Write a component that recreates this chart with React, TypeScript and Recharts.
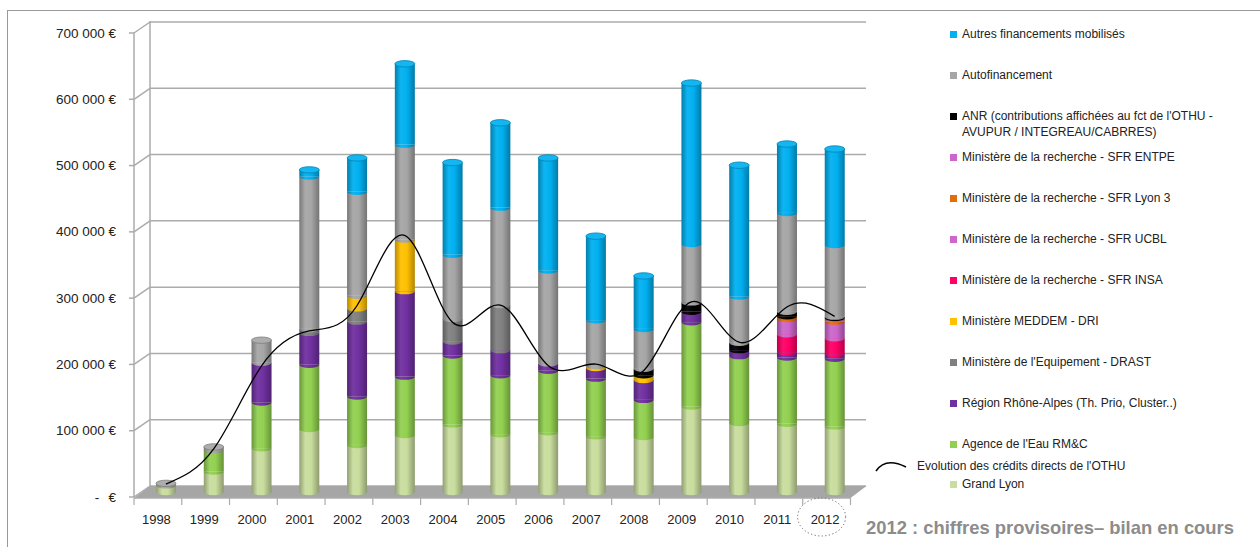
import React from "react";
import { ComposedChart, Bar, Line, XAxis, YAxis, CartesianGrid, ReferenceArea } from "recharts";

// financement OTHU par année (en €)
const years = ["1998", "1999", "2000", "2001", "2002", "2003", "2004", "2005", "2006", "2007", "2008", "2009", "2010", "2011", "2012"];

const grandLyon = [10000, 31000, 66000, 95000, 71000, 86000, 102000, 87000, 90000, 84000, 83000, 129000, 104000, 103000, 99000];
const agenceEau = [0, 32000, 69000, 97000, 73000, 88000, 104000, 89000, 93000, 87000, 56000, 127000, 101000, 100000, 102000];
const regionRA = [0, 0, 60000, 48000, 113000, 129000, 21000, 38000, 11000, 16000, 30000, 16000, 9000, 8000, 7000];
const drast = [0, 0, 0, 6000, 20000, 0, 34000, 68000, 0, 0, 0, 0, 0, 0, 0];
const meddem = [0, 0, 0, 0, 19000, 78000, 0, 0, 0, 3000, 7000, 0, 0, 0, 0];
const sfrInsa = [0, 0, 0, 0, 0, 0, 0, 0, 0, 0, 0, 0, 0, 27000, 24000];
const sfrUcbl = [0, 0, 0, 0, 0, 0, 0, 0, 0, 0, 0, 0, 0, 23000, 25000];
const sfrLyon3 = [0, 0, 0, 0, 0, 0, 0, 0, 0, 0, 0, 0, 0, 4000, 4000];
const sfrEntpe = [0, 0, 0, 0, 0, 0, 0, 0, 0, 0, 0, 0, 0, 0, 1500];
const anr = [0, 0, 0, 0, 0, 0, 0, 0, 0, 0, 10000, 14000, 11000, 7000, 2000];
const autofinancement = [3000, 5000, 34000, 230000, 157000, 143000, 97000, 147000, 140000, 69000, 60000, 88000, 70000, 149000, 108000];
const autres = [0, 0, 0, 10000, 51000, 122000, 139000, 128000, 170000, 127000, 80000, 243000, 198000, 104000, 145000];

const evolution = [12000, 65000, 190000, 243000, 281000, 387000, 256000, 282000, 191000, 193000, 183000, 287000, 226000, 279000, 265000];

const yTicks = [0, 100000, 200000, 300000, 400000, 500000, 600000, 700000];

// ordre d'empilement, du bas vers le haut
const series = [
  { key: "grandLyon", name: "Grand Lyon", color: "#C9DD9E", values: grandLyon },
  { key: "agenceEau", name: "Agence de l'Eau RM&C", color: "#92D050", values: agenceEau },
  { key: "regionRA", name: "Région Rhône-Alpes (Th. Prio, Cluster..)", color: "#7030A0", values: regionRA },
  { key: "drast", name: "Ministère de l'Equipement - DRAST", color: "#808080", values: drast },
  { key: "meddem", name: "Ministère MEDDEM - DRI", color: "#FFC000", values: meddem },
  { key: "sfrInsa", name: "Ministère de la recherche - SFR INSA", color: "#FF0066", values: sfrInsa },
  { key: "sfrUcbl", name: "Ministère de la recherche - SFR UCBL", color: "#CC66CC", values: sfrUcbl },
  { key: "sfrLyon3", name: "Ministère de la recherche - SFR Lyon 3", color: "#E46C0A", values: sfrLyon3 },
  { key: "sfrEntpe", name: "Ministère de la recherche - SFR ENTPE", color: "#CC66CC", values: sfrEntpe },
  { key: "anr", name: "ANR (contributions affichées  au fct de l'OTHU -\nAVUPUR / INTEGREAU/CABRRES)", color: "#000000", values: anr },
  { key: "autofinancement", name: "Autofinancement", color: "#A6A6A6", values: autofinancement },
  { key: "autres", name: "Autres financements mobilisés", color: "#00B0F0", values: autres },
];

const data = years.map((year, i) => {
  const row: Record<string, any> = { year, evolution: evolution[i] };
  series.forEach((s) => (row[s.key] = s.values[i]));
  return row;
});

const FONT = "'Liberation Sans', Arial, sans-serif";
const GRID = "#ABABAB";
const TEXT = "#222";
const TOP = 28;
const PLOT_H = 464;
const STEP = PLOT_H / (yTicks.length - 1);

function shade(hex: string, f: number) {
  const n = parseInt(hex.slice(1), 16);
  const ch = [(n >> 16) & 255, (n >> 8) & 255, n & 255].map((c) =>
    f >= 1 ? Math.round(c + (255 - c) * (f - 1)) : Math.round(c * f)
  );
  return `rgb(${ch[0]},${ch[1]},${ch[2]})`;
}

const makeShape = (si: number) => (props: any) => {
  const { x, y, width, height, payload } = props;
  if (!height || height <= 0) return <g />;
  const s = series[si];
  const isTop = !series.slice(si + 1).some((o) => (payload[o.key] || 0) > 0);
  const rx = width / 2;
  const ry = 3.2;
  const fill = `url(#cyl${si})`;
  const bottom = y + height;
  return (
    <g>
      <rect x={x} y={y} width={width} height={height} fill={fill} />
      <path d={`M${x},${bottom} A${rx},${ry} 0 0 0 ${x + width},${bottom} Z`} fill={fill} />
      {isTop && (
        <ellipse cx={x + rx} cy={y} rx={rx} ry={ry} fill={shade(s.color, 1.08)} stroke={shade(s.color, 0.75)} strokeWidth={0.8} />
      )}
    </g>
  );
};

const YTick = (props: any) => {
  const { y, payload, index } = props;
  const v = payload.value as number;
  const fy = y + 5;
  return (
    <g>
      <line x1={129} y1={fy} x2={134} y2={fy} stroke={GRID} strokeWidth={1.5} />
      <line x1={134} y1={fy} x2={150} y2={y - 6} stroke={GRID} strokeWidth={1.5} />
      {index < yTicks.length - 1 && <line x1={134} y1={fy} x2={134} y2={fy - STEP} stroke={GRID} strokeWidth={1.5} />}
      {v === 0 ? (
        <>
          <text x={97} y={fy} textAnchor="middle" dominantBaseline="central" fontSize={13.5} fill={TEXT}>-</text>
          <text x={116} y={fy} textAnchor="end" dominantBaseline="central" fontSize={13.5} fill={TEXT}>€</text>
        </>
      ) : (
        <text x={116} y={fy} textAnchor="end" dominantBaseline="central" fontSize={13.5} fill={TEXT}>
          {`${v / 1000} 000 €`}
        </text>
      )}
    </g>
  );
};

const XTick = (props: any) => {
  const { x, payload } = props;
  return (
    <g>
      <text x={x - 9.5} y={519} textAnchor="middle" dominantBaseline="central" fontSize={13} fill={TEXT}>
        {payload.value}
      </text>
      {payload.value === "2012" && (
        <ellipse cx={x - 13} cy={517} rx={24} ry={19} fill="none" stroke="#666" strokeWidth={1} strokeDasharray="1.2 2.4" />
      )}
    </g>
  );
};

const Floor = (props: any) => {
  const { x, y, width: w, height: h } = props;
  const ticks = Array.from({ length: years.length + 1 }, (_, i) => x - 8 + (i * w) / years.length);
  return (
    <g>
      <polygon points={`${x + 8},${y} ${x + w + 8},${y} ${x + w - 8},${y + h} ${x - 8},${y + h}`} fill="#A6A6A6" />
      <line x1={x - 8} y1={y + h} x2={x + w - 8} y2={y + h} stroke={GRID} strokeWidth={1.5} />
      {ticks.map((tx, i) => (
        <line key={i} x1={tx} y1={y + h} x2={tx} y2={y + h + 7} stroke={GRID} strokeWidth={1.2} />
      ))}
    </g>
  );
};

const legendItems = [...series].reverse();

export default function App() {
  return (
    <div style={{ position: "absolute", left: 0, top: 0, width: 1260, height: 547, overflow: "hidden", background: "#fff", fontFamily: FONT }}>
      <div style={{ position: "absolute", left: 7, top: 10, width: 1300, height: 600, borderLeft: "1.5px solid #999", borderTop: "1.5px solid #999" }} />
      <div style={{ position: "absolute", left: 0, top: 0 }}>
        <ComposedChart width={1260} height={547} data={data} margin={{ top: TOP, right: 401.5, bottom: 25, left: 0 }} barSize={20}>
          <defs>
            {series.map((s, i) => (
              <linearGradient key={s.key} id={`cyl${i}`} x1="0" y1="0" x2="1" y2="0">
                <stop offset="0%" stopColor={shade(s.color, 0.72)} />
                <stop offset="30%" stopColor={shade(s.color, 1.06)} />
                <stop offset="60%" stopColor={s.color} />
                <stop offset="100%" stopColor={shade(s.color, 0.7)} />
              </linearGradient>
            ))}
          </defs>
          <CartesianGrid
            x={150}
            y={21}
            width={716}
            height={466}
            stroke={GRID}
            strokeWidth={1.5}
            horizontalCoordinatesGenerator={({ offset }: any) =>
              yTicks.map((t) => offset.top + offset.height * (1 - t / 700000) - 6)
            }
            verticalCoordinatesGenerator={() => [150]}
          />
          <XAxis dataKey="year" height={30} interval={0} axisLine={false} tickLine={false} tick={(p: any) => <XTick {...p} />} />
          <YAxis type="number" domain={[0, 700000]} ticks={yTicks} width={142} axisLine={false} tickLine={false} tick={(p: any) => <YTick {...p} />} />
          <ReferenceArea y1={-9000} y2={9000} ifOverflow="visible" shape={(p: any) => <Floor {...p} />} zIndex={-50} />
          {series.map((s, i) => (
            <Bar key={s.key} dataKey={s.key} name={s.name} stackId="a" fill={s.color} shape={makeShape(i)} isAnimationActive={false} />
          ))}
          <Line dataKey="evolution" type="natural" stroke="#000" strokeWidth={1.3} dot={false} activeDot={false} isAnimationActive={false} />
        </ComposedChart>
      </div>

      {legendItems.map((s, i) => {
        const cy = i < 11 ? 34 + i * 41 : 484;
        const lines = s.name.split("\n");
        return (
          <div key={s.key} style={{ position: "absolute", left: 950, top: cy - 8, fontSize: 12, lineHeight: "16px", color: TEXT, whiteSpace: "nowrap" }}>
            <span style={{ position: "absolute", left: 0, top: 4.5, width: 7, height: 7, background: s.color }} />
            <div style={{ marginLeft: 12 }}>
              {lines.map((l, j) => (
                <div key={j}>{l}</div>
              ))}
            </div>
          </div>
        );
      })}
      <svg style={{ position: "absolute", left: 870, top: 455 }} width={40} height={22}>
        <path d="M6 16 C12 7, 22 5, 36 12" fill="none" stroke="#000" strokeWidth={1.5} />
      </svg>
      <div style={{ position: "absolute", left: 917, top: 458, fontSize: 12, lineHeight: "16px", color: TEXT, whiteSpace: "nowrap" }}>
        Evolution des crédits directs de l'OTHU
      </div>

      <div style={{ position: "absolute", left: 866, top: 517, fontSize: 18.4, fontWeight: "bold", color: "#8C8C8C", whiteSpace: "nowrap" }}>
        2012 : chiffres provisoires– bilan en cours
      </div>
    </div>
  );
}
